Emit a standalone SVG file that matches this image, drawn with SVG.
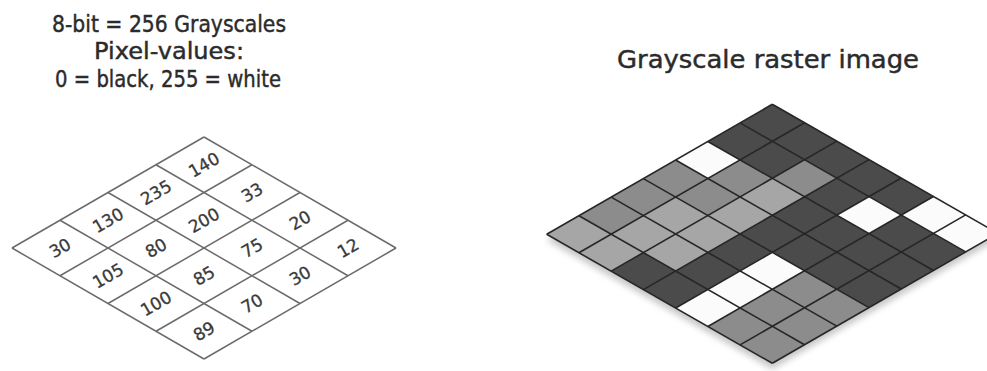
<svg xmlns="http://www.w3.org/2000/svg" width="987" height="371" viewBox="0 0 987 371">
  <style>
    .title { font-family: "DejaVu Sans", "Noto Sans", sans-serif; fill: #2b2b2b; stroke: #2b2b2b; stroke-width: 0.45; text-anchor: middle; }
    .val { font-family: "DejaVu Sans", "Noto Sans", sans-serif; font-size: 17px; fill: #3a3a3a; stroke: #3a3a3a; stroke-width: 0.3; text-anchor: middle; dominant-baseline: central; }
    .lg { fill: none; stroke: #6b6b6b; stroke-width: 1.5; vector-effect: non-scaling-stroke; }
    .rg { fill: none; stroke: #262626; stroke-width: 1.6; vector-effect: non-scaling-stroke; }
    .D { fill: #4b4b4b; }
    .M { fill: #8c8c8c; }
    .L { fill: #a6a6a6; }
    .W { fill: #fbfbfb; }
  </style>
  <defs>
    <filter id="blur" x="-10%" y="-10%" width="120%" height="130%">
      <feGaussianBlur stdDeviation="3"/>
    </filter>
  </defs>
  <rect width="987" height="371" fill="#ffffff"/>

  <!-- Titles -->
  <g id="title-left">
    <text class="title" x="169" y="32" font-size="23" textLength="234" lengthAdjust="spacingAndGlyphs">8-bit = 256 Grayscales</text>
    <text class="title" x="169" y="59" font-size="23" textLength="150" lengthAdjust="spacingAndGlyphs">Pixel-values:</text>
    <text class="title" x="168" y="87" font-size="23" textLength="226" lengthAdjust="spacingAndGlyphs">0 = black, 255 = white</text>
  </g>
  <g id="title-right">
    <text class="title" x="768" y="68" font-size="24" textLength="302" lengthAdjust="spacingAndGlyphs">Grayscale raster image</text>
  </g>

  <!-- Left: pixel value grid (4x4 isometric) -->
  <g id="value-grid">
    <g transform="matrix(48 -27.75 48 27.75 12 248)">
      <line class="lg" x1="0" y1="0" x2="4" y2="0"/>
      <line class="lg" x1="0" y1="1" x2="4" y2="1"/>
      <line class="lg" x1="0" y1="2" x2="4" y2="2"/>
      <line class="lg" x1="0" y1="3" x2="4" y2="3"/>
      <line class="lg" x1="0" y1="4" x2="4" y2="4"/>
      <line class="lg" x1="0" y1="0" x2="0" y2="4"/>
      <line class="lg" x1="1" y1="0" x2="1" y2="4"/>
      <line class="lg" x1="2" y1="0" x2="2" y2="4"/>
      <line class="lg" x1="3" y1="0" x2="3" y2="4"/>
      <line class="lg" x1="4" y1="0" x2="4" y2="4"/>
    </g>
    <g id="values">
      <text class="val" transform="translate(60 248) rotate(-30)">30</text>
      <text class="val" transform="translate(108 220.25) rotate(-30)">130</text>
      <text class="val" transform="translate(156 192.5) rotate(-30)">235</text>
      <text class="val" transform="translate(204 164.75) rotate(-30)">140</text>
      <text class="val" transform="translate(108 275.75) rotate(-30)">105</text>
      <text class="val" transform="translate(156 248) rotate(-30)">80</text>
      <text class="val" transform="translate(204 220.25) rotate(-30)">200</text>
      <text class="val" transform="translate(252 192.5) rotate(-30)">33</text>
      <text class="val" transform="translate(156 303.5) rotate(-30)">100</text>
      <text class="val" transform="translate(204 275.75) rotate(-30)">85</text>
      <text class="val" transform="translate(252 248) rotate(-30)">75</text>
      <text class="val" transform="translate(300 220.25) rotate(-30)">20</text>
      <text class="val" transform="translate(204 331.25) rotate(-30)">89</text>
      <text class="val" transform="translate(252 303.5) rotate(-30)">70</text>
      <text class="val" transform="translate(300 275.75) rotate(-30)">30</text>
      <text class="val" transform="translate(348 248) rotate(-30)">12</text>
    </g>
  </g>

  <!-- Right: grayscale raster (7x7 isometric) -->
  <g id="raster-image">
    <polygon points="546.7,240.3 772.3,110.3 998,239.3 772.3,369.3" fill="#9a9a9a" opacity="0.55" filter="url(#blur)"/>
    <g transform="matrix(32.23 -18.57 32.23 18.43 546.7 234.3)">
      <!-- b=0 -->
      <rect class="L" x="0" y="0" width="1" height="1"/>
      <rect class="M" x="1" y="0" width="1" height="1"/>
      <rect class="M" x="2" y="0" width="1" height="1"/>
      <rect class="M" x="3" y="0" width="1" height="1"/>
      <rect class="W" x="4" y="0" width="1" height="1"/>
      <rect class="D" x="5" y="0" width="1" height="1"/>
      <rect class="D" x="6" y="0" width="1" height="1"/>
      <!-- b=1 -->
      <rect class="L" x="0" y="1" width="1" height="1"/>
      <rect class="L" x="1" y="1" width="1" height="1"/>
      <rect class="L" x="2" y="1" width="1" height="1"/>
      <rect class="M" x="3" y="1" width="1" height="1"/>
      <rect class="M" x="4" y="1" width="1" height="1"/>
      <rect class="D" x="5" y="1" width="1" height="1"/>
      <rect class="D" x="6" y="1" width="1" height="1"/>
      <!-- b=2 -->
      <rect class="D" x="0" y="2" width="1" height="1"/>
      <rect class="L" x="1" y="2" width="1" height="1"/>
      <rect class="L" x="2" y="2" width="1" height="1"/>
      <rect class="L" x="3" y="2" width="1" height="1"/>
      <rect class="L" x="4" y="2" width="1" height="1"/>
      <rect class="M" x="5" y="2" width="1" height="1"/>
      <rect class="D" x="6" y="2" width="1" height="1"/>
      <!-- b=3 -->
      <rect class="D" x="0" y="3" width="7" height="1"/>
      <!-- b=4 -->
      <rect class="W" x="0" y="4" width="3" height="1"/>
      <rect class="D" x="3" y="4" width="2" height="1"/>
      <rect class="W" x="5" y="4" width="1" height="1"/>
      <rect class="D" x="6" y="4" width="1" height="1"/>
      <!-- b=5 -->
      <rect class="M" x="0" y="5" width="3" height="1"/>
      <rect class="D" x="3" y="5" width="3" height="1"/>
      <rect class="W" x="6" y="5" width="1" height="1"/>
      <!-- b=6 -->
      <rect class="M" x="0" y="6" width="3" height="1"/>
      <rect class="D" x="3" y="6" width="3" height="1"/>
      <rect class="W" x="6" y="6" width="1" height="1"/>
      <!-- grid lines -->
      <line class="rg" x1="0" y1="0" x2="7" y2="0"/>
      <line class="rg" x1="0" y1="1" x2="7" y2="1"/>
      <line class="rg" x1="0" y1="2" x2="7" y2="2"/>
      <line class="rg" x1="0" y1="3" x2="7" y2="3"/>
      <line class="rg" x1="0" y1="4" x2="7" y2="4"/>
      <line class="rg" x1="0" y1="5" x2="7" y2="5"/>
      <line class="rg" x1="0" y1="6" x2="7" y2="6"/>
      <line class="rg" x1="0" y1="7" x2="7" y2="7"/>
      <line class="rg" x1="0" y1="0" x2="0" y2="7"/>
      <line class="rg" x1="1" y1="0" x2="1" y2="7"/>
      <line class="rg" x1="2" y1="0" x2="2" y2="7"/>
      <line class="rg" x1="3" y1="0" x2="3" y2="7"/>
      <line class="rg" x1="4" y1="0" x2="4" y2="7"/>
      <line class="rg" x1="5" y1="0" x2="5" y2="7"/>
      <line class="rg" x1="6" y1="0" x2="6" y2="7"/>
      <line class="rg" x1="7" y1="0" x2="7" y2="7"/>
    </g>
  </g>
</svg>
